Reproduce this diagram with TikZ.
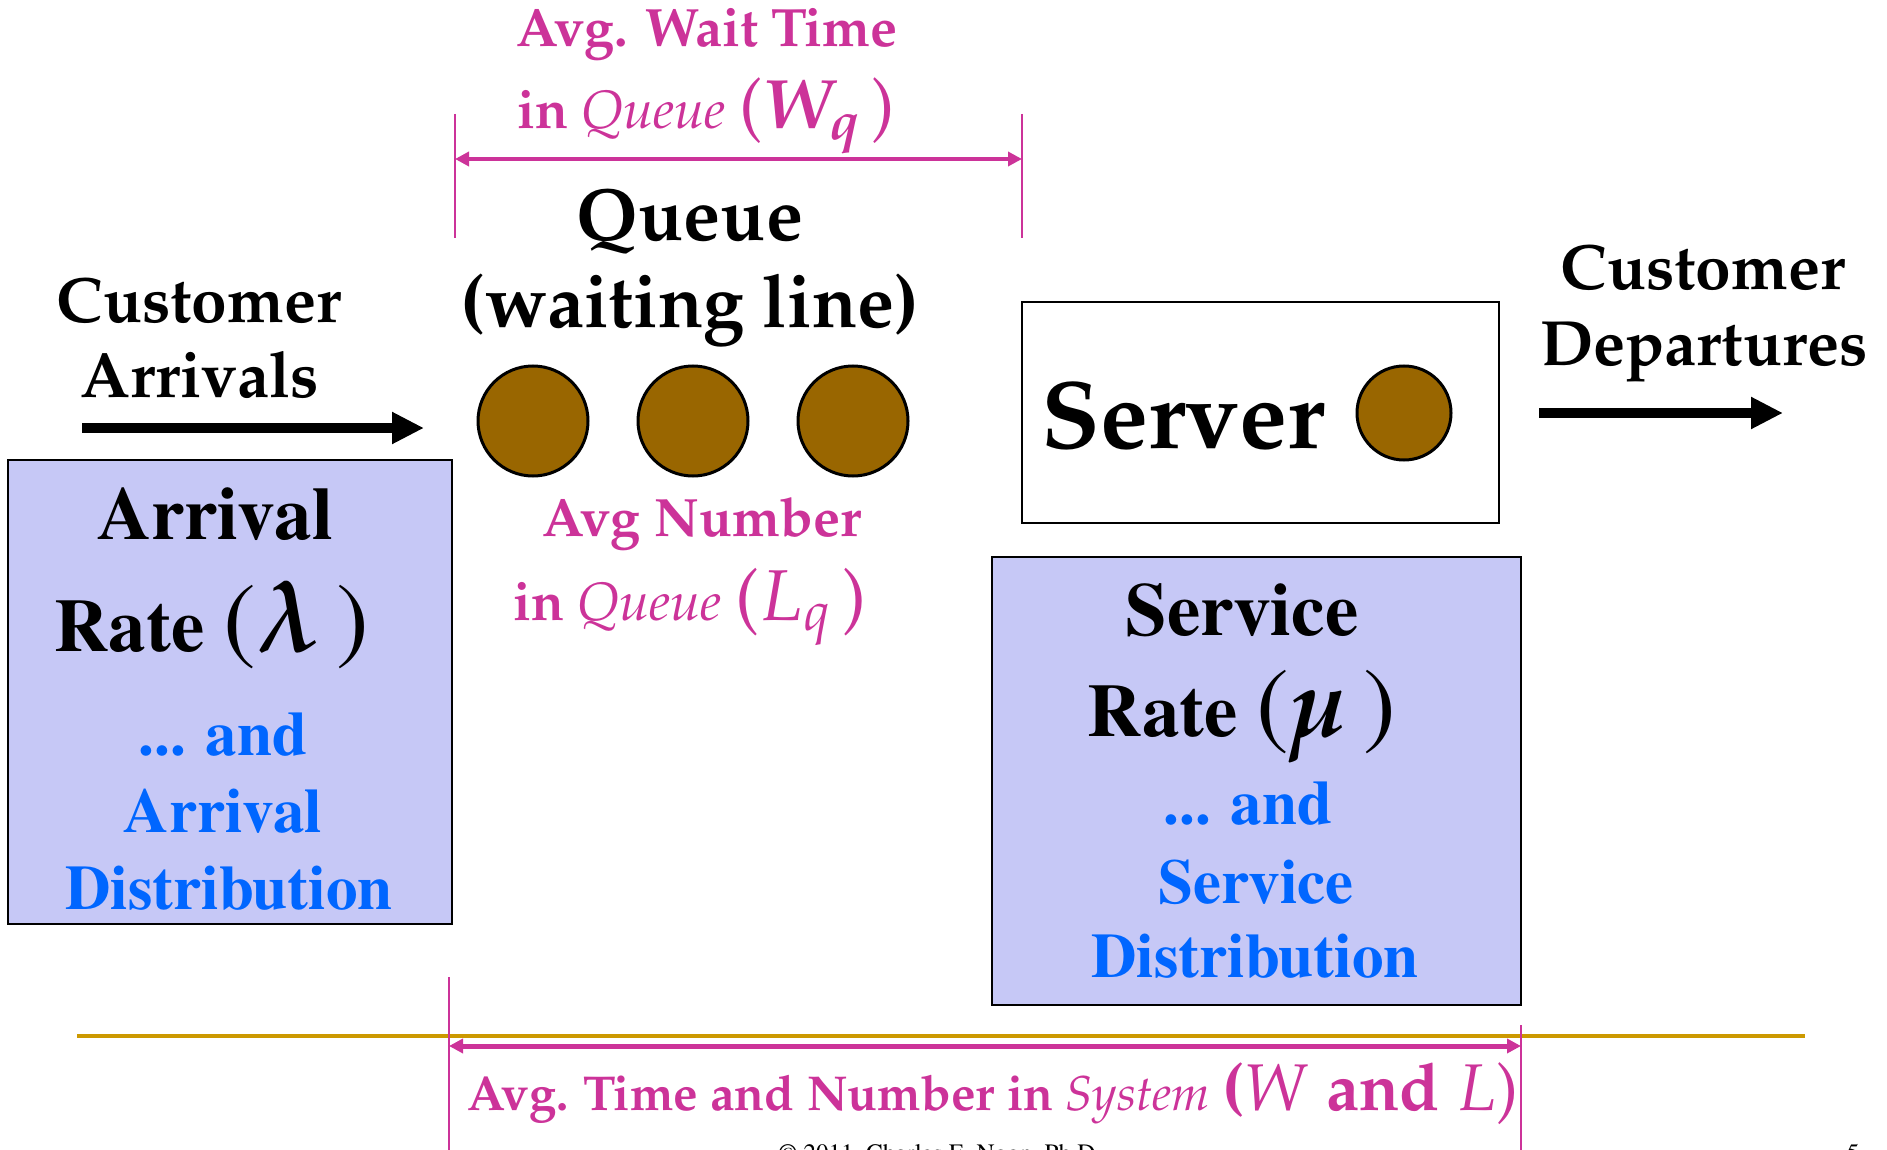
\documentclass[tikz,border=0pt]{standalone}
\usepackage[T1]{fontenc}
\usepackage{mathpazo}
\definecolor{qPink}{HTML}{CC3399}
\definecolor{qBlue}{HTML}{0066FF}
\definecolor{qBrown}{HTML}{996600}
\definecolor{qGold}{HTML}{CC9900}
\definecolor{qLav}{HTML}{C6C8F6}
\usetikzlibrary{arrows.meta}
\newcommand{\pala}{\fontfamily{ppl}\bfseries}
\newcommand{\tms}{\fontfamily{ptm}\bfseries}
\newcommand{\fsz}[2]{\fontsize{#1}{#2}\selectfont}

\begin{document}
\begin{tikzpicture}[x=1pt,y=-1pt,
  lbl/.style={anchor=base,inner sep=0pt},
  pinklbl/.style={lbl,text=qPink,font=\pala\fsz{54}{64}},
  blacklbl/.style={lbl,font=\pala\fsz{64}{76}},
  ratelbl/.style={lbl,font=\tms\fsz{75}{90}},
  distlbl/.style={lbl,text=qBlue,font=\tms\fsz{63}{76}},
  cust/.style={circle,draw,line width=3pt,fill=qBrown,inner sep=0pt},
  ratebox/.style={draw,line width=2pt,fill=qLav,inner sep=0pt},
  bigarrow/.style={line width=10pt,-{Triangle[length=32pt,width=30pt]}},
  pinkline/.style={draw=qPink,line width=2pt},
  pinkarrow/.style={draw=qPink,{Triangle[length=14pt,width=14pt]}-{Triangle[length=14pt,width=14pt]}}]
  \useasboundingbox (0,0) rectangle (1887,1150);

  % average wait time in queue
  \node[pinklbl] (wq1) at (707,47) {Avg. Wait Time};
  \node[pinklbl] (wq2) at (706,129) {in \textmd{\itshape Queue} {\mdseries\fsz{70}{82}(\boldmath$W_{q}$\,)}};
  \coordinate (wqL) at (455,114);
  \coordinate (wqR) at (1022,114);
  \coordinate (wqLa) at (455,159);
  \coordinate (wqRa) at (1022,159);
  \draw[pinkline] (wqL) -- ++(0,124);
  \draw[pinkline] (wqR) -- ++(0,124);
  \draw[pinkarrow,line width=4pt] (wqLa) -- (wqRa);

  % queue
  \node[lbl,font=\pala\fsz{74}{88}] (qtitle) at (690,241) {Queue};
  \node[lbl,font=\pala\fsz{74}{88}] (qsub) at (690,327) {(waiting line)};
  \foreach \i/\x in {1/533,2/693,3/853}
    \node[cust,minimum size=110pt] (c\i) at (\x,421) {};

  % arrivals
  \node[blacklbl] (arr1) at (199,323) {Customer};
  \node[blacklbl] (arr2) at (200,397) {Arrivals};
  \coordinate (arrS) at (82,428);
  \coordinate (arrE) at (424,428);
  \draw[bigarrow] (arrS) -- (arrE);

  % arrival rate box
  \node[ratebox,minimum width=444pt,minimum height=464pt] (abox) at (230,692) {};
  \node[ratelbl] (ar1) at (215,539) {Arrival};
  \node[ratelbl] (ar2) at (212,651) {Rate {\mdseries\fsz{98}{110}(\boldmath$\lambda$\,)}};
  \node[distlbl] (ad1) at (223,755) {... and};
  \node[distlbl] (ad2) at (223,832) {Arrival};
  \node[distlbl] (ad3) at (229,909) {Distribution};

  % avg number in queue
  \node[pinklbl] (lq1) at (702,536) {Avg Number};
  \node[pinklbl] (lq2) at (690,620) {in \textmd{\itshape Queue} {\mdseries\fsz{72}{84}($L_{q}$\,)}};

  % server
  \node[draw,line width=2.5pt,minimum width=477pt,minimum height=221pt,inner sep=0pt] (srv) at (1260.5,412.5) {};
  \node[lbl,font=\pala\fsz{96}{110}] (srvtxt) at (1183,448) {Server};
  \node[cust,minimum size=94pt] (c4) at (1404,413) {};

  % departures
  \node[blacklbl] (dep1) at (1703,290) {Customer};
  \node[blacklbl] (dep2) at (1704,365) {Departures};
  \coordinate (depS) at (1539,413);
  \coordinate (depE) at (1783,413);
  \draw[bigarrow] (depS) -- (depE);

  % service rate box
  \node[ratebox,minimum width=529pt,minimum height=448pt] (sbox) at (1256.5,781) {};
  \node[ratelbl] (sr1) at (1242,635) {Service};
  \node[ratelbl] (sr2) at (1242,736) {Rate {\mdseries\fsz{98}{110}(\boldmath$\mu$\,)}};
  \node[distlbl] (sd1) at (1248,824) {... and};
  \node[distlbl] (sd2) at (1256,903) {Service};
  \node[distlbl] (sd3) at (1255,977) {Distribution};

  % system
  \coordinate (goldL) at (77,1036);
  \coordinate (goldR) at (1805,1036);
  \draw[qGold,line width=4pt] (goldL) -- (goldR);
  \coordinate (sysL) at (449,977);
  \coordinate (sysR) at (1521,1025);
  \coordinate (sysLa) at (449,1046);
  \coordinate (sysRa) at (1521,1046);
  \draw[pinkline] (sysL) -- (449,1150);
  \draw[pinkline] (sysR) -- (1521,1150);
  \draw[pinkarrow,line width=5pt] (sysLa) -- (sysRa);
  \node[pinklbl,font=\pala\fsz{49}{59}] (sys) at (993,1110) {Avg. Time and Number in \textmd{\itshape System} {\fsz{66}{78}(\mdseries$W$ \bfseries and $L$\mdseries)}};

  % footer
  \node[lbl,font=\fontfamily{ptm}\fsz{25}{30}] (copy) at (940,1161) {\textcopyright\ 2011, Charles E. Noon, Ph.D.};
  \node[lbl,font=\fontfamily{ptm}\fsz{25}{30}] (pg) at (1853,1161) {5};
\end{tikzpicture}
\end{document}
